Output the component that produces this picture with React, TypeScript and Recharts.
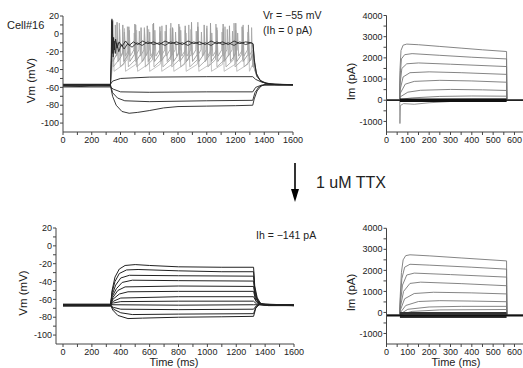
import { LineChart, Line, XAxis, YAxis } from 'recharts';

type Pt = [number, number];

/* ================= AXES ================= */
const TIME_MAJOR = [0, 200, 400, 600, 800, 1000, 1200, 1400, 1600];
const TIME_MINOR = [100, 300, 500, 700, 900, 1100, 1300, 1500];
const VM_MAJOR = [20, 0, -20, -40, -60, -80, -100];
const VM_MINOR = [10, -10, -30, -50, -70, -90];
const STEP_MAJOR = [0, 100, 200, 300, 400, 500, 600];
const STEP_MINOR = [50, 150, 250, 350, 450, 550];
const IM_MAJOR = [4000, 3000, 2000, 1000, 0, -1000];
const IM_MINOR = [3500, 2500, 1500, 500, -500];

/* ================= CONTROL, current clamp ================= */
const CTRL_H1: Pt[] = [[0, -58], [120, -59], [240, -57], [330, -58], [345, -70], [370, -80], [410, -87], [460, -89], [520, -88], [600, -86], [700, -83], [800, -81.5], [1000, -81], [1200, -80.5], [1320, -80], [1330, -73], [1350, -64], [1380, -58], [1420, -56], [1500, -57], [1600, -57]];
const CTRL_H2: Pt[] = [[0, -57], [330, -57], [345, -66], [380, -72], [430, -75], [600, -76], [800, -75.5], [1000, -75], [1320, -74.5], [1335, -66], [1360, -60], [1400, -57], [1600, -57]];
const CTRL_H3: Pt[] = [[0, -59.5], [330, -59.5], [350, -62], [400, -65], [600, -65.5], [1000, -65], [1320, -65], [1340, -60], [1380, -57.5], [1600, -57.5]];
const CTRL_D1: Pt[] = [[0, -56.5], [330, -56.5], [345, -53], [400, -50], [600, -48.5], [1000, -48], [1320, -48], [1340, -51], [1380, -54], [1450, -56.5], [1600, -57]];
const CTRL_B1: Pt[] = [[0, -58], [330, -58], [336, -30], [340, 16], [346, -22], [352, -4], [358, -18], [366, -6], [376, -16], [390, -9], [410, -14], [435, -8], [460, -13], [490, -9], [520, -12], [555, -8], [590, -11], [630, -9], [670, -12], [710, -8], [750, -11], [790, -9], [830, -12], [870, -8], [910, -11], [950, -9], [990, -12], [1030, -8], [1070, -11], [1110, -9], [1150, -12], [1190, -8], [1230, -11], [1270, -9], [1310, -10], [1322, -11], [1330, -28], [1345, -44], [1370, -52], [1410, -55], [1480, -57], [1600, -57]];
const CTRL_B2: Pt[] = [[0, -57], [330, -57], [337, -28], [342, 14], [349, -26], [356, -8], [364, -22], [374, -10], [388, -20], [405, -12], [425, -17], [450, -11], [480, -15], [515, -10], [550, -13], [590, -9], [630, -12], [670, -10], [710, -13], [750, -9], [790, -12], [830, -10], [870, -13], [910, -9], [950, -12], [990, -10], [1030, -13], [1070, -9], [1110, -12], [1150, -10], [1190, -13], [1230, -9], [1270, -12], [1310, -10], [1322, -12], [1332, -32], [1348, -47], [1375, -53], [1420, -56], [1600, -57]];

const S1_TIMES = [348, 428, 512, 596, 680, 764, 850, 938, 1026, 1114, 1202, 1290];
const S1_PEAKS = [15, 6, 4, 5, 3, 6, 4, 5, 3, 6, 4, 5];
const S2_TIMES = [343, 392, 448, 506, 566, 626, 688, 750, 812, 875, 938, 1001, 1064, 1127, 1190, 1253, 1312];
const S2_PEAKS = [16, 12, 8, 10, 7, 11, 9, 12, 8, 10, 13, 9, 11, 8, 12, 10, 7];
const S3_TIMES = [340, 376, 416, 458, 500, 543, 586, 630, 674, 718, 762, 806, 850, 894, 938, 982, 1026, 1070, 1114, 1158, 1202, 1246, 1290];
const S3_PEAKS = [17, 13, 10, 8, 11, 7, 9, 12, 8, 10, 7, 11, 9, 13, 8, 10, 12, 7, 11, 9, 12, 8, 10];
const S4_TIMES = [338, 364, 394, 427, 461, 496, 531, 567, 603, 639, 675, 711, 747, 783, 819, 855, 891, 927, 963, 999, 1035, 1071, 1107, 1143, 1179, 1215, 1251, 1287];
const S4_PEAKS = [16, 10, 5, 2, 4, 1, 3, 5, 2, 4, 1, 3, 6, 2, 4, 1, 5, 3, 2, 6, 1, 4, 2, 5, 3, 1, 4, 2];
const SPIKE_TAIL: Pt[] = [[1330, -38], [1350, -48], [1385, -54], [1430, -56.5], [1600, -57]];

/* ================= CONTROL, voltage clamp ================= */
const CTRL_I1: Pt[] = [[0, 0], [62, 0], [63, 1400], [68, 2350], [78, 2600], [95, 2650], [150, 2620], [250, 2540], [350, 2460], [450, 2380], [563, 2300], [564, 0], [640, 0]];
const CTRL_I2: Pt[] = [[0, 0], [62, 0], [63, 1000], [70, 1950], [85, 2150], [120, 2200], [250, 2120], [400, 2030], [563, 1950], [564, 0], [640, 0]];
const CTRL_I3: Pt[] = [[0, 0], [62, 0], [63, 700], [72, 1500], [95, 1720], [150, 1760], [300, 1700], [563, 1590], [564, 0], [640, 0]];
const CTRL_I4: Pt[] = [[0, 0], [62, 0], [63, 450], [78, 1100], [110, 1300], [200, 1340], [350, 1300], [563, 1220], [564, 0], [640, 0]];
const CTRL_I5: Pt[] = [[0, 0], [62, 0], [63, 300], [88, 760], [130, 890], [250, 940], [400, 910], [563, 850], [564, 0], [640, 0]];
const CTRL_I6: Pt[] = [[0, 0], [62, 0], [63, 150], [100, 380], [160, 470], [300, 510], [450, 490], [563, 460], [564, 0], [640, 0]];
const CTRL_I7: Pt[] = [[0, 0], [62, 0], [63, 40], [120, 110], [250, 180], [400, 200], [563, 190], [564, 0], [640, 0]];
const CTRL_I8: Pt[] = [[0, 0], [62, 0], [63, 0], [200, 40], [400, 60], [563, 60], [564, 0], [640, 0]];
const CTRL_IN: Pt[] = [[0, 0], [62, 0], [63, -1100], [65, -250], [80, -160], [130, -190], [200, -120], [300, -60], [563, -40], [564, 0], [640, 0]];
const CTRL_I0: Pt[] = [[0, 0], [640, 0]];
const CTRL_I0_STEP: Pt[] = [[63, 0], [563, 0]];

/* ================= TTX, current clamp (Ih = -141 pA) ================= */
const TTX_V1: Pt[] = [[0, -66], [330, -66], [340, -50], [360, -35], [390, -26], [430, -22], [500, -21], [600, -22], [800, -23.5], [1100, -24], [1320, -24], [1328, -45], [1345, -58], [1370, -65], [1420, -67], [1600, -67]];
const TTX_V2: Pt[] = [[0, -67], [330, -67], [340, -52], [360, -40], [390, -31], [440, -27], [520, -26.5], [800, -28], [1100, -29], [1320, -29], [1328, -48], [1345, -60], [1375, -66], [1600, -66.5]];
const TTX_V3: Pt[] = [[0, -65.5], [330, -65.5], [340, -55], [365, -44], [400, -36], [460, -33], [800, -33.5], [1320, -34], [1330, -52], [1350, -62], [1380, -66], [1600, -66]];
const TTX_V4: Pt[] = [[0, -66.5], [330, -66.5], [340, -57], [370, -48], [410, -41], [480, -38.5], [800, -39], [1320, -39.5], [1330, -55], [1355, -63], [1390, -66.5], [1600, -67]];
const TTX_V5: Pt[] = [[0, -67], [330, -67], [345, -58], [380, -50], [430, -46], [800, -45], [1320, -45.5], [1332, -58], [1360, -65], [1600, -66.5]];
const TTX_V6: Pt[] = [[0, -66], [330, -66], [345, -60], [390, -54], [450, -51.5], [800, -51], [1320, -51], [1335, -61], [1365, -66], [1600, -66]];
const TTX_V7: Pt[] = [[0, -65.5], [330, -65.5], [350, -62], [400, -58.5], [800, -57], [1320, -57], [1340, -63], [1370, -66], [1600, -66]];
const TTX_V8: Pt[] = [[0, -67], [330, -67], [350, -64], [400, -62.5], [800, -62], [1320, -62], [1340, -65], [1600, -67]];
const TTX_V9: Pt[] = [[0, -66], [330, -66], [800, -66.5], [1320, -66], [1600, -66.5]];
const TTX_V10: Pt[] = [[0, -67.5], [330, -67.5], [350, -69], [400, -71], [800, -71.5], [1320, -71], [1340, -67], [1370, -65.5], [1600, -66.5]];
const TTX_V11: Pt[] = [[0, -66], [330, -66], [350, -71], [400, -75], [480, -77], [800, -76.5], [1320, -76], [1335, -69], [1365, -65], [1400, -66], [1600, -66]];
const TTX_V12: Pt[] = [[0, -66.5], [330, -66.5], [345, -72], [380, -78], [450, -81.5], [550, -81], [800, -80], [1100, -79.5], [1320, -79], [1335, -70], [1365, -64.5], [1410, -66], [1600, -67]];

/* ================= TTX, voltage clamp ================= */
const TTX_I1: Pt[] = [[0, -140], [62, -140], [64, 700], [70, 1900], [78, 2500], [90, 2700], [110, 2740], [200, 2690], [350, 2590], [563, 2450], [564, -140], [640, -140]];
const TTX_I2: Pt[] = [[0, -140], [62, -140], [64, 500], [72, 1600], [85, 2150], [110, 2290], [200, 2250], [400, 2150], [563, 2060], [564, -140], [640, -140]];
const TTX_I3: Pt[] = [[0, -140], [62, -140], [64, 350], [75, 1300], [95, 1780], [130, 1870], [300, 1800], [563, 1680], [564, -140], [640, -140]];
const TTX_I4: Pt[] = [[0, -140], [62, -140], [64, 200], [80, 1000], [110, 1380], [160, 1440], [350, 1370], [563, 1270], [564, -140], [640, -140]];
const TTX_I5: Pt[] = [[0, -140], [62, -140], [64, 80], [85, 650], [130, 900], [220, 960], [400, 930], [563, 880], [564, -140], [640, -140]];
const TTX_I6: Pt[] = [[0, -140], [62, -140], [64, -20], [90, 330], [150, 520], [250, 560], [400, 540], [563, 510], [564, -140], [640, -140]];
const TTX_I7: Pt[] = [[0, -140], [62, -140], [64, -80], [100, 150], [200, 260], [350, 290], [563, 290], [564, -140], [640, -140]];
const TTX_I8: Pt[] = [[0, -140], [62, -140], [64, -110], [120, 50], [250, 120], [563, 140], [564, -140], [640, -140]];
const TTX_LEAK_LEVELS = [-10, -60, -110, -190, -240];
const TTX_HOLD: Pt[] = [[0, -141], [640, -141]];

/* ================= HELPERS ================= */
const FONT = '"Liberation Sans", Arial, sans-serif';
const DARK = '#222';

const spikeTrain = (base: number, times: number[], peaks: number[], trough: number, thr: number): Pt[] => {
  const pts: Pt[] = [[0, base], [330, base]];
  times.forEach((t, i) => {
    pts.push([t - 3, thr], [t, peaks[i]], [t + 7, trough]);
  });
  return [...pts, [1320, thr], ...SPIKE_TAIL];
};

const rows = (pts: Pt[]) => pts.map(([t, v]) => ({ t, v }));

const xTick = (major: number[]) => (p: any) => {
  const v = p.payload.value;
  if (!major.includes(v)) return <g />;
  return (
    <text x={p.x} y={p.y} dy="0.71em" textAnchor="middle" fontSize={9} fill={DARK} fontFamily={FONT}>
      {v}
    </text>
  );
};

const yTick = (major: number[]) => (p: any) => {
  const v = p.payload.value;
  if (!major.includes(v)) return <g />;
  return (
    <text x={p.x} y={p.y} dy="0.35em" textAnchor="end" fontSize={9} fill={DARK} fontFamily={FONT}>
      {v}
    </text>
  );
};

interface Trace {
  pts: Pt[];
  color: string;
  width?: number;
}

interface PanelProps {
  left: number;
  top: number;
  width: number;
  height: number;
  margin: { top: number; right: number; bottom: number; left: number };
  xDomain: [number, number];
  xMajor: number[];
  xMinor: number[];
  xPad?: number;
  yDomain: [number, number];
  yMajor: number[];
  yMinor: number[];
  traces: Trace[];
}

function Panel(props: PanelProps) {
  const { left, top, width, height, margin, xDomain, xMajor, xMinor, xPad = 0, yDomain, yMajor, yMinor, traces } = props;
  return (
    <div style={{ position: 'absolute', left, top }}>
      <LineChart width={width} height={height} margin={margin}>
        <XAxis
          dataKey="t"
          type="number"
          domain={xDomain}
          ticks={[...xMajor, ...xMinor].sort((a, b) => a - b)}
          interval={0}
          padding={{ left: xPad, right: 0 }}
          allowDataOverflow
          height={20}
          tickSize={3}
          tickMargin={2}
          stroke="#444"
          tick={xTick(xMajor)}
        />
        <YAxis
          type="number"
          domain={yDomain}
          ticks={[...yMajor, ...yMinor].sort((a, b) => a - b)}
          interval={0}
          allowDataOverflow
          width={40}
          tickSize={3}
          tickMargin={1}
          stroke="#444"
          tick={yTick(yMajor)}
        />
        {traces.map((tr, i) => (
          <Line
            key={i}
            data={rows(tr.pts)}
            dataKey="v"
            type="linear"
            stroke={tr.color}
            strokeWidth={tr.width ?? 0.9}
            dot={false}
            activeDot={false}
            isAnimationActive={false}
          />
        ))}
      </LineChart>
    </div>
  );
}

/* ================= COMPONENT ================= */
export default function App() {
  const ctrlVm: Trace[] = [
    { pts: spikeTrain(-58, S1_TIMES, S1_PEAKS, -42, -34), color: '#bcbcbc' },
    { pts: spikeTrain(-57, S2_TIMES, S2_PEAKS, -37, -29), color: '#a8a8a8' },
    { pts: spikeTrain(-59, S3_TIMES, S3_PEAKS, -31, -23), color: '#9a9a9a' },
    { pts: spikeTrain(-58, S4_TIMES, S4_PEAKS, -25, -18), color: '#a4a4a4' },
    { pts: CTRL_B2, color: '#333' },
    { pts: CTRL_B1, color: DARK },
    { pts: CTRL_D1, color: DARK },
    { pts: CTRL_H3, color: DARK },
    { pts: CTRL_H2, color: DARK },
    { pts: CTRL_H1, color: DARK },
  ];

  const ctrlIm: Trace[] = [
    ...[CTRL_I1, CTRL_I2, CTRL_I3, CTRL_I4, CTRL_I5, CTRL_I6, CTRL_I7, CTRL_I8].map((pts) => ({ pts, color: '#777' })),
    { pts: CTRL_IN, color: '#888' },
    { pts: CTRL_I0, color: DARK, width: 1.3 },
    { pts: CTRL_I0_STEP, color: '#111', width: 3.5 },
  ];

  const ttxVm: Trace[] = [TTX_V1, TTX_V2, TTX_V3, TTX_V4, TTX_V5, TTX_V6, TTX_V7, TTX_V8, TTX_V9, TTX_V10, TTX_V11, TTX_V12].map(
    (pts) => ({ pts, color: DARK, width: 1 })
  );

  const ttxIm: Trace[] = [
    ...[TTX_I1, TTX_I2, TTX_I3, TTX_I4, TTX_I5, TTX_I6, TTX_I7, TTX_I8].map((pts) => ({ pts, color: '#777' })),
    ...TTX_LEAK_LEVELS.map((l) => ({ pts: [[63, l], [563, l]] as Pt[], color: '#333', width: 1.2 })),
    { pts: TTX_HOLD, color: '#111', width: 2 },
  ];

  return (
    <div
      style={{
        position: 'absolute',
        left: 0,
        top: 0,
        width: 523,
        height: 368,
        background: '#fff',
        overflow: 'hidden',
        fontFamily: FONT,
      }}
    >
      <Panel
        left={0}
        top={0}
        width={312}
        height={152}
        margin={{ top: 16, right: 19, bottom: 0, left: 23 }}
        xDomain={[0, 1600]}
        xMajor={TIME_MAJOR}
        xMinor={TIME_MINOR}
        yDomain={[-110, 20]}
        yMajor={VM_MAJOR}
        yMinor={VM_MINOR}
        traces={ctrlVm}
      />
      <Panel
        left={300}
        top={0}
        width={223}
        height={152}
        margin={{ top: 15.5, right: 0, bottom: 0, left: 46.5 }}
        xDomain={[0, 640]}
        xMajor={STEP_MAJOR}
        xMinor={STEP_MINOR}
        yDomain={[-1500, 4000]}
        yMajor={IM_MAJOR}
        yMinor={IM_MINOR}
        traces={ctrlIm}
      />
      <Panel
        left={0}
        top={200}
        width={312}
        height={164}
        margin={{ top: 28, right: 18, bottom: 0, left: 16 }}
        xDomain={[0, 1600]}
        xMajor={TIME_MAJOR}
        xMinor={TIME_MINOR}
        xPad={7}
        yDomain={[-110, 20]}
        yMajor={VM_MAJOR}
        yMinor={VM_MINOR}
        traces={ttxVm}
      />
      <Panel
        left={300}
        top={200}
        width={223}
        height={164}
        margin={{ top: 28.3, right: 0, bottom: 0, left: 46.5 }}
        xDomain={[0, 640]}
        xMajor={STEP_MAJOR}
        xMinor={STEP_MINOR}
        yDomain={[-1500, 4000]}
        yMajor={IM_MAJOR}
        yMinor={IM_MINOR}
        traces={ttxIm}
      />

      {/* labels, annotations and the TTX arrow */}
      <svg width={523} height={368} style={{ position: 'absolute', left: 0, top: 0, pointerEvents: 'none' }}>
        <g fontFamily={FONT} fill={DARK}>
          <text x={7} y={29} fontSize={11}>Cell#16</text>
          <text x={263} y={19} fontSize={10.5}>Vr = −55 mV</text>
          <text x={263} y={34} fontSize={10.5}>(Ih = 0 pA)</text>
          <text x={256} y={239} fontSize={10.5}>Ih = −141 pA</text>
          <text x={316} y={187.5} fontSize={16}>1 uM TTX</text>
          <text transform="translate(35,80.5) rotate(-90)" textAnchor="middle" fontSize={11.5}>Vm (mV)</text>
          <text transform="translate(27,293) rotate(-90)" textAnchor="middle" fontSize={11.5}>Vm (mV)</text>
          <text transform="translate(354.5,81.5) rotate(-90)" textAnchor="middle" fontSize={11.5}>Im (pA)</text>
          <text transform="translate(354.5,292.5) rotate(-90)" textAnchor="middle" fontSize={11.5}>Im (pA)</text>
          <text x={174} y={366} textAnchor="middle" fontSize={11}>Time (ms)</text>
          <text x={456} y={366} textAnchor="middle" fontSize={11}>Time (ms)</text>
        </g>
        <line x1={295} y1={163} x2={295} y2={191} stroke="#000" strokeWidth={1.6} />
        <polygon points="291,189 299,189 295,202" fill="#000" />
      </svg>
    </div>
  );
}
